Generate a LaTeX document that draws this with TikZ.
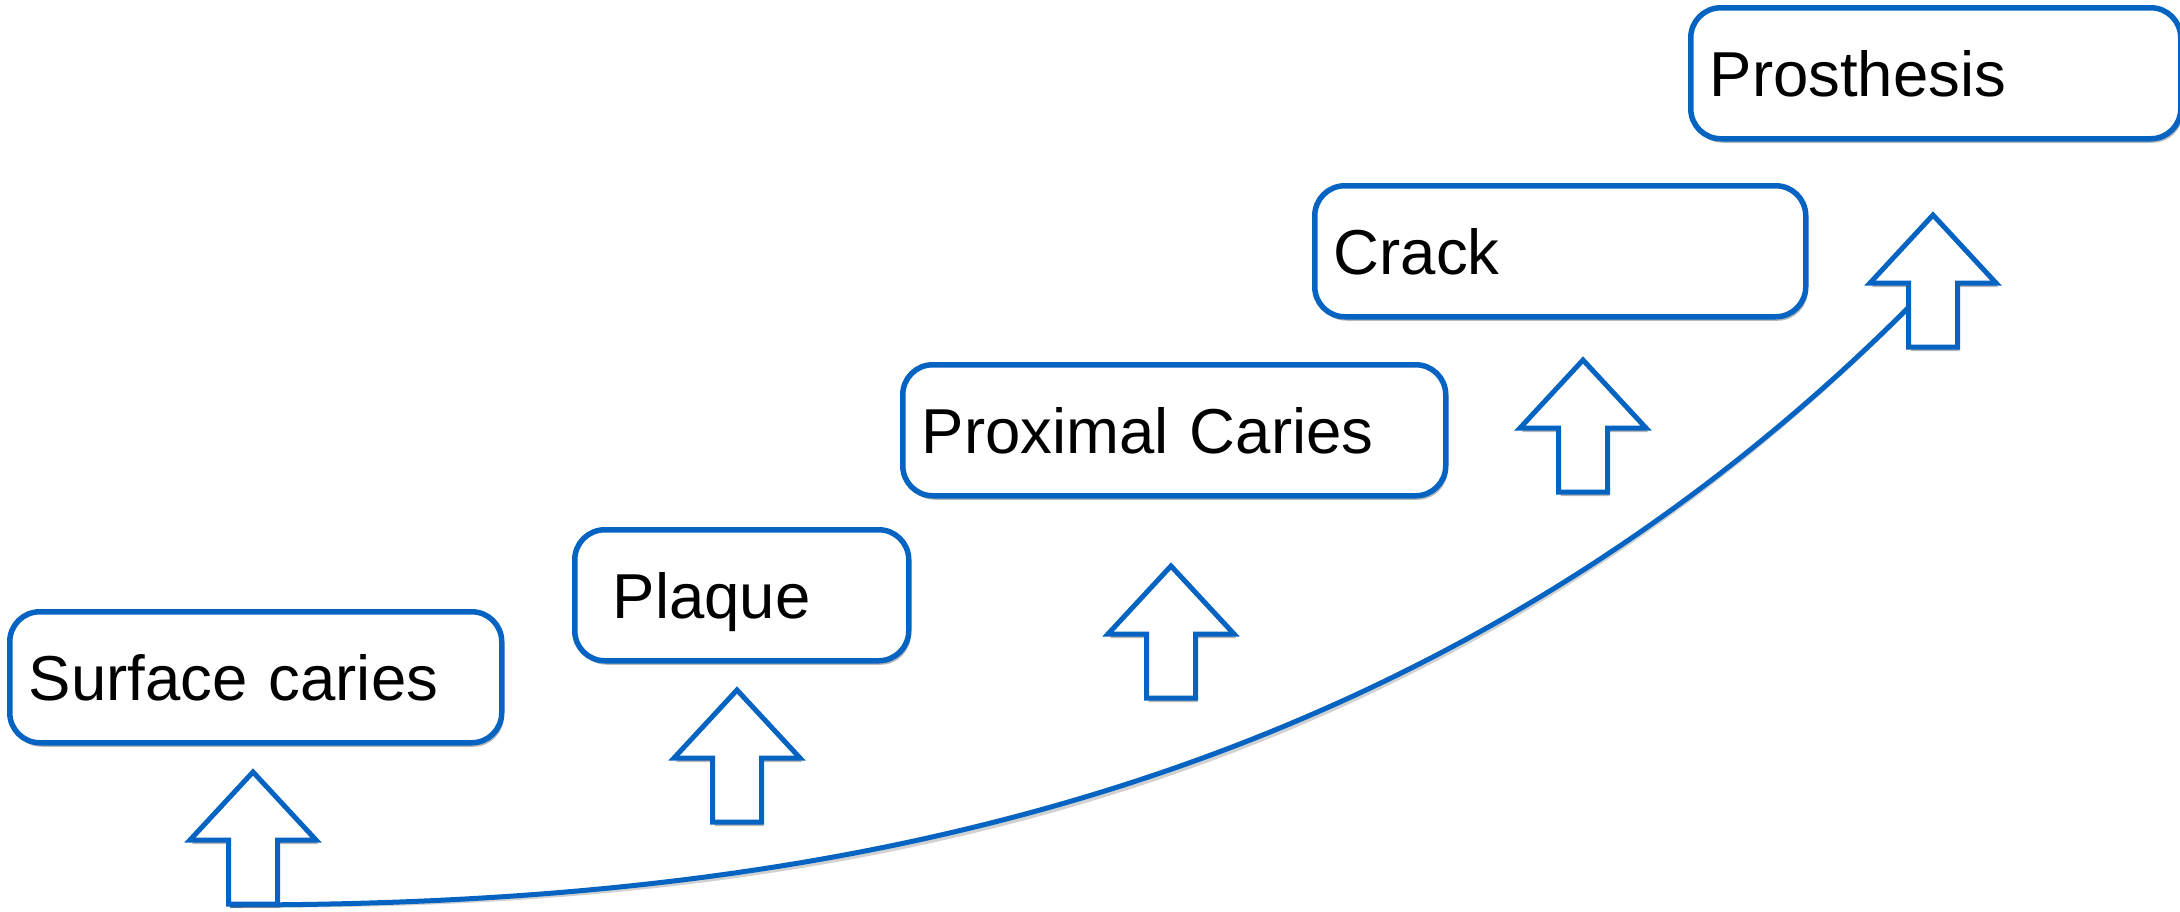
\documentclass[tikz,border=0pt]{standalone}
\usepackage{fontspec}
\setmainfont{Liberation Sans}
\usepackage{tikz}
\usetikzlibrary{shadows}

\definecolor{stageblue}{RGB}{5,99,193}

\tikzset{
  soft shadow/.style={drop shadow={shadow xshift=2pt,shadow yshift=-4pt,opacity=0.4,fill=black!70}},
  line shadow/.style={draw=black!60,opacity=0.3,line width=5pt,shift={(2,4)}},
  stage/.style={draw=stageblue,line width=5.5pt,fill=white,rounded corners=30pt,soft shadow,
    anchor=north west,minimum height=131pt,align=left,inner xsep=19pt,
    text height=46pt,text depth=0pt,font=\fontsize{63.5}{77}\selectfont},
  stagearrow/.pic={
    \filldraw[draw=stageblue,fill=white,line width=5pt,soft shadow]
      (0,0) -- (63,68) -- (24.5,68) -- (24.5,132) -- (-24.5,132) -- (-24.5,68) -- (-63,68) -- cycle;
  }
}

\begin{document}
\begin{tikzpicture}[x=1pt,y=-1pt]
            \useasboundingbox (0,0) rectangle (2180,911);
            % curve under the arrows
            \coordinate (start) at (230,905);
            \coordinate (finish) at (1908,308);
            \draw[line shadow] (start) .. controls (751,905) and (1386,829) .. (finish);
            \draw[stageblue,line width=5pt] (start) .. controls (751,905) and (1386,829) .. (finish);
            % stages
            \node[stage,text width=454pt] (surface) at (7,609) {Surface caries};
            \node[stage,text width=258pt,inner xsep=38pt] (plaque) at (572,527) {Plaque};
            \node[stage,text width=505pt] (proximal) at (900,362) {Proximal Caries};
            \node[stage,text width=453pt] (crack) at (1312,183) {Crack};
            \node[stage,text width=452pt] (prosthesis) at (1688,5) {Prosthesis};
            % arrows
            \pic at (253,772) {stagearrow};
            \pic at (737,690) {stagearrow};
            \pic at (1171,566) {stagearrow};
            \pic at (1583,360) {stagearrow};
            \pic at (1933,215) {stagearrow};
        \end{tikzpicture}
\end{document}
